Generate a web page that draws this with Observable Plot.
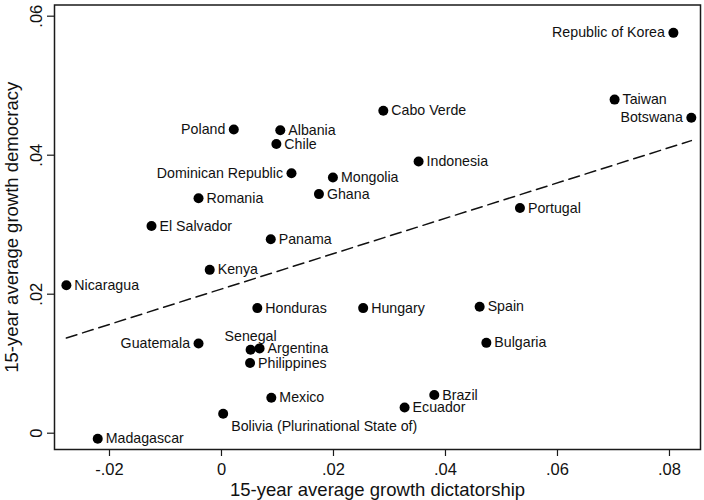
<!DOCTYPE html>
<html>
<head>
<meta charset="utf-8">
<script src="https://cdn.jsdelivr.net/npm/d3@7"></script>
<script src="https://cdn.jsdelivr.net/npm/@observablehq/plot@0.6"></script>
<style>
  html, body { margin: 0; padding: 0; background: #fff; }
</style>
</head>
<body>
<div id="chart"></div>
<script>
// ---- data ----
const countries = [
  "Republic of Korea", "Taiwan", "Botswana", "Cabo Verde", "Indonesia", "Portugal",
  "Poland", "Albania", "Chile", "Dominican Republic", "Mongolia", "Ghana",
  "Romania", "El Salvador", "Panama", "Kenya", "Nicaragua", "Honduras",
  "Hungary", "Spain", "Bulgaria", "Guatemala", "Senegal", "Argentina",
  "Philippines", "Mexico", "Brazil", "Ecuador", "Bolivia (Plurinational State of)", "Madagascar"
];
const growthDictatorship = [
  0.0807, 0.0702, 0.0839, 0.0289, 0.0352, 0.0533,
  0.0022, 0.0105, 0.0098, 0.0125, 0.0199, 0.0174,
  -0.0041, -0.0125, 0.0088, -0.0021, -0.0277, 0.0064,
  0.0253, 0.0461, 0.0473, -0.0041, 0.0052, 0.0068,
  0.0051, 0.0089, 0.0380, 0.0327, 0.0003, -0.0221
];
const growthDemocracy = [
  0.0576, 0.0480, 0.0454, 0.0464, 0.0391, 0.0324,
  0.0437, 0.0436, 0.0416, 0.0374, 0.0368, 0.0344,
  0.0338, 0.0298, 0.0279, 0.0235, 0.0213, 0.0180,
  0.0180, 0.0182, 0.0130, 0.0129, 0.0120, 0.0122,
  0.0101, 0.0051, 0.0055, 0.0037, 0.0028, -0.0008
];
// fitted line end points
const fitX = [-0.0277, 0.0839];
const fitY = [0.0137, 0.0421];
// tick values
const xTicks = [-0.02, 0, 0.02, 0.04, 0.06, 0.08];
const yTicks = [0, 0.02, 0.04, 0.06];
const xTitle = "15-year average growth dictatorship";
const yTitle = "15-year average growth democracy";

// label placement (Stata-like clock positions)
const labelLeft = ["Republic of Korea", "Botswana", "Poland", "Dominican Republic", "Guatemala"];
const labelTop = ["Senegal"];
const labelBelowRight = ["Bolivia (Plurinational State of)"];

const rows = countries.map((c, i) => ({country: c, x: growthDictatorship[i], y: growthDemocracy[i]}));
const fit = fitX.map((x, i) => ({x, y: fitY[i]}));

const fmt = d => d === 0 ? "0" : String(d).replace("0.", ".");

const rightRows = rows.filter(d => !labelLeft.includes(d.country) && !labelTop.includes(d.country) && !labelBelowRight.includes(d.country));
const leftRows = rows.filter(d => labelLeft.includes(d.country));
const topRows = rows.filter(d => labelTop.includes(d.country));
const brRows = rows.filter(d => labelBelowRight.includes(d.country));

const font = "'Liberation Sans', Arial, Helvetica, sans-serif";
const labelSize = 14.2;

const chart = Plot.plot({
  width: 704,
  height: 500,
  marginLeft: 54,
  marginRight: 4,
  marginTop: 4.5,
  marginBottom: 51,
  style: {fontFamily: font, fontSize: "14px", background: "#fff", color: "#111"},
  x: {domain: [-0.02982, 0.08554], nice: false},
  y: {domain: [-0.002345, 0.06161], nice: false},
  marks: [
    Plot.frame({stroke: "#1a1a1a", strokeWidth: 1.5}),
    Plot.axisX({ticks: xTicks, tickFormat: fmt, tickSize: 7, tickPadding: 7, fontSize: 16.5, label: null, stroke: "#1a1a1a", strokeWidth: 1.2}),
    Plot.axisY({ticks: yTicks, tickFormat: fmt, tickSize: 7, tickPadding: 6, tickRotate: -90, fontSize: 16.5, label: null, stroke: "#1a1a1a", strokeWidth: 1.2}),
    Plot.text([xTitle], {text: d => d, frameAnchor: "bottom", textAnchor: "middle", lineAnchor: "middle", dy: 41, fontSize: 18.5, fill: "#111"}),
    Plot.text([yTitle], {text: d => d, frameAnchor: "left", textAnchor: "middle", lineAnchor: "middle", dx: -42, rotate: -90, fontSize: 18.5, fill: "#111"}),
    Plot.line(fit, {x: "x", y: "y", stroke: "#111", strokeWidth: 1.5, strokeDasharray: "11,6"}),
    Plot.dot(rows, {x: "x", y: "y", r: 5, fill: "#000", stroke: "none"}),
    Plot.text(rightRows, {x: "x", y: "y", text: "country", textAnchor: "start", dx: 8, fontSize: labelSize, fill: "#111"}),
    Plot.text(leftRows, {x: "x", y: "y", text: "country", textAnchor: "end", dx: -8.5, fontSize: labelSize, fill: "#111"}),
    Plot.text(topRows, {x: "x", y: "y", text: "country", textAnchor: "middle", dy: -13, fontSize: labelSize, fill: "#111"}),
    Plot.text(brRows, {x: "x", y: "y", text: "country", textAnchor: "start", dx: 8, dy: 12.5, fontSize: labelSize, fill: "#111"})
  ]
});
document.getElementById("chart").appendChild(chart);
</script>
</body>
</html>
